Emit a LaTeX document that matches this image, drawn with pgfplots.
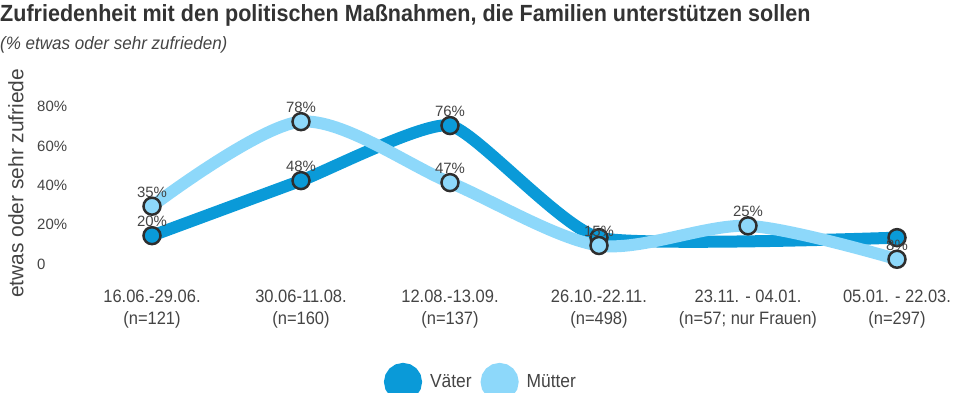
\documentclass[border=0pt]{standalone}
\usepackage{pgfplots}
\pgfplotsset{compat=1.18}
\usepackage{fontspec}
\setmainfont{Liberation Sans}
\newfontfamily\condfont[FakeStretch=0.92]{Liberation Sans}
\newfontfamily\subfont[FakeStretch=0.95]{Liberation Sans}
\definecolor{vater}{HTML}{0A9AD8}
\definecolor{mutter}{HTML}{8DD8FA}
\definecolor{txt}{HTML}{444444}
\definecolor{ttl}{HTML}{333333}
\definecolor{mk}{HTML}{2E2E2E}
\begin{document}
\begin{tikzpicture}
\path[use as bounding box] (0bp,0bp) rectangle (953bp,393bp);
\node[anchor=base west, inner sep=0pt, text=ttl, font=\condfont\bfseries\fontsize{23.5}{27}\selectfont] at (0bp,371bp) {Zufriedenheit mit den politischen Maßnahmen, die Familien unterstützen sollen};
\node[anchor=base west, inner sep=0pt, text=txt, font=\subfont\itshape\fontsize{18}{21}\selectfont] at (0bp,343bp) {(\% etwas oder sehr zufrieden)};
\begin{scope}
\clip (0bp,0bp) rectangle (40bp,323bp);
\node[rotate=90, anchor=west, text=txt, font=\fontsize{21}{24}\selectfont, inner sep=0pt] at (16bp,95bp) {etwas oder sehr zufrieden};
\end{scope}
\begin{axis}[
  at={(152bp,118bp)}, anchor=south west, scale only axis,
  width=745bp, height=157.3bp,
  xmin=0, xmax=5, ymin=0, ymax=80,
  clip=false,
  axis line style={draw=none},
  major tick length=0pt,
  /pgf/number format/assume math mode=true,
  xtick={0,1,2,3,4,5},
  xticklabels={{16.06.-29.06.\\(n=121)},{30.06-11.08.\\(n=160)},{12.08.-13.09.\\(n=137)},{26.10.-22.11.\\(n=498)},{23.11. - 04.01.\\(n=57; nur Frauen)},{05.01. - 22.03.\\(n=297)}},
  xticklabel style={align=center, anchor=north, inner sep=0pt, yshift=-15bp, text=txt, font=\condfont\fontsize{18}{22}\selectfont},
  ytick={0,20,40,60,80},
  yticklabels={0,20\%,40\%,60\%,80\%},
  yticklabel style={anchor=west, inner sep=0pt, xshift=-115bp, yshift=11bp, text=txt, font=\fontsize{15}{18}\selectfont},
  legend style={at={(0.4416,-0.68)}, anchor=center, draw=none, fill=none, legend columns=2,
    font=\condfont\fontsize{19}{22}\selectfont, text=txt,
    /tikz/every odd column/.append style={column sep=6bp},
    /tikz/every even column/.append style={column sep=7bp}},
  legend cell align=left,
]
\addplot[vater, line width=12bp, smooth, tension=0.3,
  legend image code/.code={\fill[vater] (0bp,0bp) circle (13bp);}]
  coordinates {(0,20) (1,48) (2,76) (3,19) (5,19)};
\addlegendentry{Väter}
\addplot[mutter, line width=12bp, smooth, tension=0.5,
  legend image code/.code={\fill[mutter] (0bp,0bp) circle (13bp);}]
  coordinates {(0,35) (1,78) (2,47) (3,15) (4,25) (5,8)};
\addlegendentry{Mütter}
\addplot[forget plot, only marks, mark=*, mark size=8.5bp, mark options={fill=vater, draw=mk, line width=2.5bp}]
  coordinates {(0,20) (1,48) (2,76) (3,19) (5,19)};
\addplot[forget plot, only marks, mark=*, mark size=8.5bp, mark options={fill=mutter, draw=mk, line width=2.5bp}]
  coordinates {(0,35) (1,78) (2,47) (3,15) (4,25) (5,8)};
\addplot[forget plot, draw=none, mark=none, nodes near coords, point meta=explicit symbolic,
  every node near coord/.append style={anchor=center, yshift=14bp, text=txt, font=\fontsize{15}{18}\selectfont, inner sep=0pt}]
  coordinates {(0,20)[20\%] (1,48)[48\%] (2,76)[76\%]};
\addplot[forget plot, draw=none, mark=none, nodes near coords, point meta=explicit symbolic,
  every node near coord/.append style={anchor=center, yshift=14bp, text=txt, font=\fontsize{15}{18}\selectfont, inner sep=0pt}]
  coordinates {(0,35)[35\%] (1,78)[78\%] (2,47)[47\%] (3,15)[15\%] (4,25)[25\%] (5,8)[8\%]};
\end{axis}
\end{tikzpicture}
\end{document}
